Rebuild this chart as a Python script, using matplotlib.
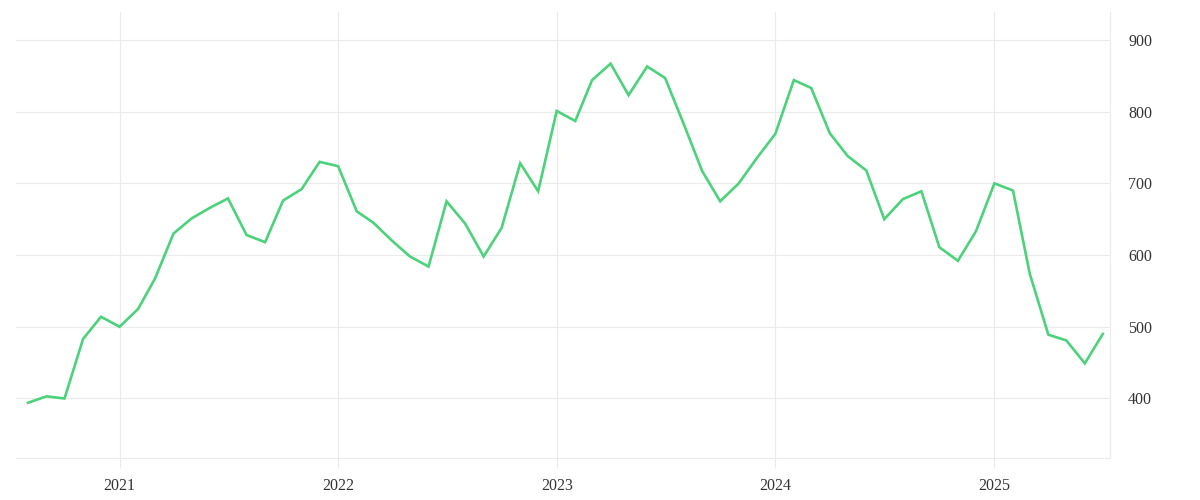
import matplotlib
matplotlib.use('Agg')
import matplotlib.pyplot as plt
import pandas as pd

# monthly values, Aug 2020 - Jul 2025
months = pd.date_range('2020-08-01', '2025-07-01', freq='MS')
values = [
    394, 403, 400, 483, 514,
    500, 525, 567, 630, 651, 666, 679, 628, 618, 676, 692, 730,
    724, 661, 645, 620, 598, 584, 675, 644, 598, 638, 728, 689,
    801, 787, 844, 867, 823, 863, 847, 783, 717, 675, 700, 735,
    769, 844, 833, 770, 738, 718, 650, 678, 689, 611, 592, 633,
    700, 690, 574, 489, 481, 449, 490,
]
y_ticks = [400, 500, 600, 700, 800, 900]
x_ticks = pd.to_datetime(['2021-01-01', '2022-01-01', '2023-01-01', '2024-01-01', '2025-01-01'])
x_labels = ['2021', '2022', '2023', '2024', '2025']

grid_color = '#ebebeb'
text_color = '#333333'

plt.rcParams['font.family'] = ['Liberation Serif', 'DejaVu Serif']

fig = plt.figure(figsize=(12, 5), dpi=100)
ax = fig.add_axes([16 / 1200, 42 / 500, 1094 / 1200, 446 / 500])

ax.plot(months, values, color='#4cd27b', linewidth=1.9, solid_joinstyle='miter')

ax.set_xlim(pd.Timestamp('2020-07-12'), pd.Timestamp('2025-07-13'))
ax.set_ylim(317, 939)

ax.set_xticks(x_ticks)
ax.set_xticklabels(x_labels)
ax.set_yticks(y_ticks)
ax.yaxis.tick_right()

ax.grid(True, color=grid_color, linewidth=0.8)
ax.set_axisbelow(True)

for side in ['top', 'left']:
    ax.spines[side].set_visible(False)
for side in ['bottom', 'right']:
    ax.spines[side].set_color(grid_color)
    ax.spines[side].set_linewidth(0.8)

ax.tick_params(axis='x', length=7.2, width=0.8, color=grid_color, pad=7,
               labelsize=11.5, labelcolor=text_color)
ax.tick_params(axis='y', length=0, pad=13, labelsize=11.5, labelcolor=text_color)
for lbl in ax.get_yticklabels():
    lbl.set_horizontalalignment('left')

fig.savefig('out.png', dpi=100)
